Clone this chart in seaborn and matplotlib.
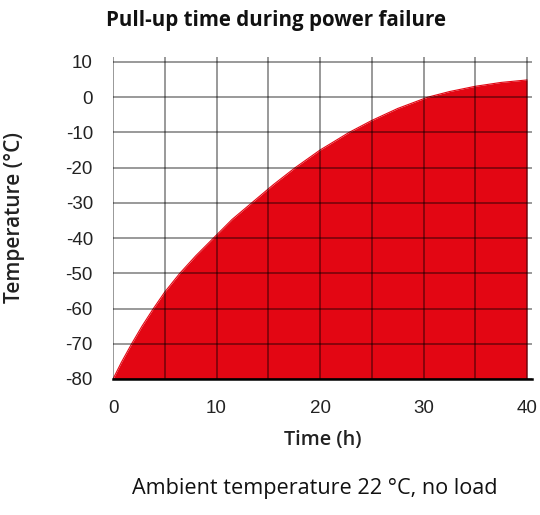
import numpy as np
import pandas as pd
import matplotlib
matplotlib.use("Agg")
import matplotlib.pyplot as plt
import seaborn as sns

# values
hours = [0, 0.8, 1.8, 2.8, 3.9, 5, 6.45, 8, 9.7, 11.5, 13.4, 15.5, 17.6, 20,
         22.8, 25, 27.5, 30.4, 32.5, 35, 37.5, 40]
temps = [-80, -75.3, -70, -65, -60, -55.3, -50, -45, -40, -34.7, -30, -24.8, -20, -15,
         -10, -6.6, -3.2, 0, 1.6, 3.1, 4.2, 4.9]
x_ticks = [0, 10, 20, 30, 40]
y_ticks = [10, 0, -10, -20, -30, -40, -50, -60, -70, -80]

data = pd.DataFrame({"Time": hours, "Temp": temps})

sns.set_style("white")
plt.rcParams['font.family'] = ['Liberation Sans', 'DejaVu Sans']
plt.rcParams['axes.unicode_minus'] = False

fig = plt.figure(figsize=(5.4, 5.15), dpi=100)
ax = fig.add_axes([0.2093, 0.2641, 0.7763, 0.6258])

red = "#e30613"
ax.fill_between(data["Time"], data["Temp"], -80, color=red, linewidth=0, zorder=1)
sns.lineplot(x="Time", y="Temp", data=data, color=red, linewidth=0.8, ax=ax, zorder=2)

ax.set_xlim(0, 40.5)
ax.set_ylim(-80, 11.5)
ax.set_xticks(x_ticks)
ax.set_xticks(np.arange(5, 40, 10), minor=True)
ax.set_yticks(y_ticks)

# grid drawn on top: grey on white, dark on red
ax.set_axisbelow(False)
ax.grid(True, which="both", color="black", alpha=0.4, linewidth=1.4, zorder=3)

for s in ["top", "right", "left"]:
    ax.spines[s].set_visible(False)
ax.spines["bottom"].set_color("black")
ax.spines["bottom"].set_linewidth(1.8)
ax.spines["bottom"].set_zorder(4)

ax.tick_params(axis="both", which="both", direction="out", width=1.4,
               color="#8a8a8a", labelsize=13.5, labelcolor="#222222")
ax.tick_params(axis="x", which="both", length=6, pad=9)
ax.tick_params(axis="y", length=9.5, pad=5)

ax.set_xlabel("Time (h)", fontsize=14.3, family=["Open Sans", "DejaVu Sans"],
              fontweight="semibold", color="#222222")
ax.set_ylabel("Temperature (°C)", fontsize=15, family=["Open Sans", "DejaVu Sans"],
              fontweight="semibold", color="#222222")
ax.xaxis.set_label_coords(0.5, -0.19)
ax.xaxis.label.set_va("center")
ax.yaxis.set_label_coords(-0.234, 0.5)
ax.yaxis.label.set_va("center")

fig.text(0.511, 0.961, "Pull-up time during power failure", ha="center", va="center",
         fontsize=14.8, fontweight="bold", family=["Open Sans", "DejaVu Sans"], color="#111111")
fig.text(0.583, 0.052, "Ambient temperature 22 °C, no load", ha="center", va="center",
         fontsize=15.6, family=["Open Sans", "DejaVu Sans"], color="#111111")

fig.savefig("out.png", dpi=100)
